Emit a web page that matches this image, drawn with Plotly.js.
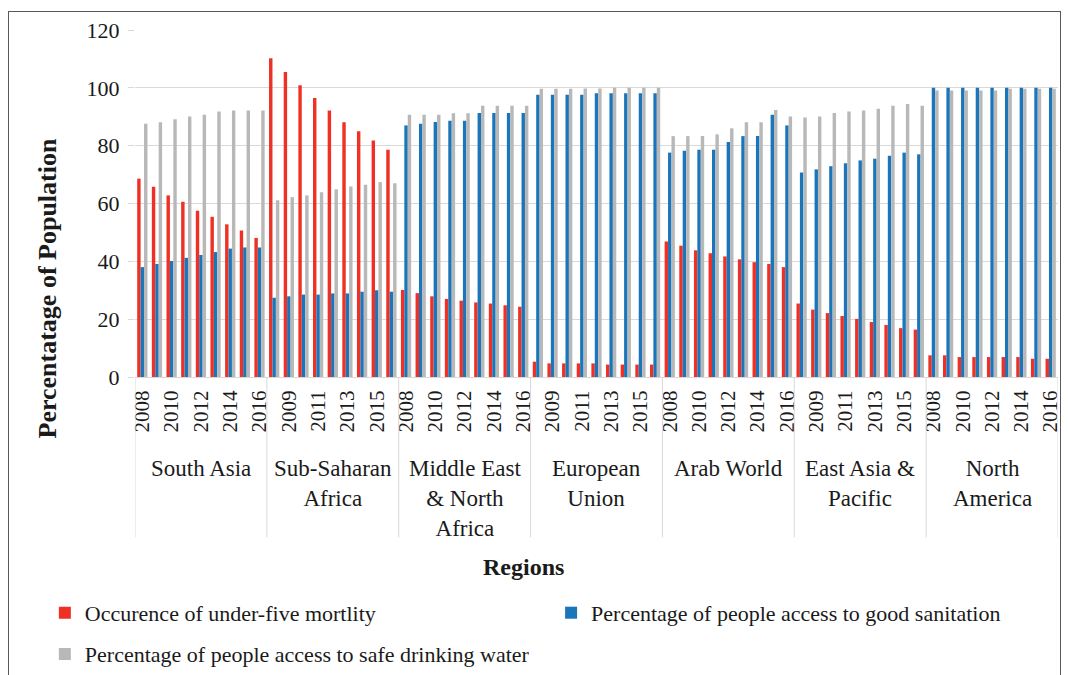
<!DOCTYPE html>
<html>
<head>
<meta charset="utf-8">
<script src="https://cdn.plot.ly/plotly-3.0.1.min.js"></script>
<style>
  html, body { margin: 0; padding: 0; background: #fff; }
  #chart { width: 1068px; height: 675px; }
  #frame { position: absolute; left: 8px; top: 11px; width: 1051px; height: 700px; border: 1px solid #595959; pointer-events: none; }
</style>
</head>
<body>
<div id="chart"></div>
<div id="frame"></div>
<script>
// ---- data ----
const regions = ["South Asia", "Sub-Saharan Africa", "Middle East & North Africa", "European Union", "Arab World", "East Asia & Pacific", "North America"];
const regionLabels = ["South Asia", "Sub-Saharan<br>Africa", "Middle East<br>& North<br>Africa", "European<br>Union", "Arab World", "East Asia &<br>Pacific", "North<br>America"];
const years = [2008, 2009, 2010, 2011, 2012, 2013, 2014, 2015, 2016];

const mortality = [
  68.6, 65.8, 62.8, 60.6, 57.5, 55.4, 52.8, 50.7, 48.1,   // South Asia
  110.2, 105.5, 100.9, 96.5, 92.2, 88.1, 85.0, 81.8, 78.6, // Sub-Saharan Africa
  30.1, 29.0, 27.9, 27.0, 26.4, 25.8, 25.4, 24.8, 24.3,   // Middle East & North Africa
  5.3, 4.7, 4.7, 4.7, 4.7, 4.3, 4.3, 4.3, 4.3,            // European Union
  46.9, 45.4, 43.8, 42.8, 41.7, 40.7, 39.7, 39.1, 38.0,   // Arab World
  25.4, 23.3, 22.1, 21.1, 20.1, 19.0, 18.0, 16.9, 16.4,   // East Asia & Pacific
  7.5, 7.5, 6.9, 6.9, 6.9, 6.9, 6.9, 6.3, 6.3             // North America
];
const sanitation = [
  38.0, 39.1, 40.1, 41.2, 42.2, 43.2, 44.4, 44.8, 44.8,
  27.4, 27.9, 28.5, 28.5, 28.9, 28.9, 29.5, 30.0, 29.5,
  87.0, 87.6, 88.2, 88.6, 88.6, 91.3, 91.3, 91.3, 91.3,
  97.6, 97.6, 97.6, 97.6, 98.1, 98.1, 98.1, 98.1, 98.1,
  77.6, 78.2, 78.6, 78.6, 81.3, 83.3, 83.3, 90.7, 87.0,
  70.7, 71.8, 72.9, 73.9, 74.9, 75.5, 76.5, 77.6, 77.0,
  100, 100, 100, 100, 100, 100, 100, 100, 100
];
const water = [
  87.6, 88.1, 89.1, 90.1, 90.7, 91.8, 92.2, 92.2, 92.2,
  61.1, 62.2, 62.8, 63.9, 64.9, 65.9, 66.5, 67.4, 67.0,
  90.7, 90.7, 90.7, 91.2, 91.2, 93.8, 93.8, 93.8, 93.8,
  99.7, 99.7, 99.7, 99.8, 99.8, 100, 100, 100, 100,
  83.3, 83.3, 83.3, 83.9, 86.0, 88.1, 88.1, 92.3, 90.1,
  89.7, 90.1, 91.3, 91.8, 92.2, 92.8, 93.8, 94.4, 93.8,
  99.1, 99.1, 99.1, 99.1, 99.1, 99.7, 99.7, 99.7, 99.7
];
const seriesNames = ["Occurence of under-five mortlity", "Percentage of people access to good sanitation", "Percentage of people access to safe drinking water"];

// ---- build ----
const FONT = '"Liberation Serif", "Times New Roman", serif';
const TXT = "#1a1a1a";
const keys = [], yearOf = [];
regions.forEach(r => years.forEach(y => { keys.push(r + " " + y); yearOf.push(String(y)); }));
const tickvals = keys.filter((_, i) => i % 2 === 0);
const ticktext = yearOf.filter((_, i) => i % 2 === 0);

const colors = ["#EE3124", "#1B75BB", "#B8B8B8"];
const legendIds = ["legend", "legend2", "legend3"];
const traces = [mortality, sanitation, water].map((vals, i) => ({
  type: "bar", x: keys, y: vals, name: seriesNames[i],
  marker: { color: colors[i] },
  legend: legendIds[i]
}));

const n = years.length;
const shapes = [];
for (let g = 0; g <= regions.length; g++) {
  shapes.push({ type: "line", xref: "x", yref: "paper", x0: g * n - 0.5, x1: g * n - 0.5, y0: 0, y1: -0.462,
    line: { color: "#D9D9D9", width: 1 } });
}
const annotations = regions.map((r, g) => ({
  xref: "x", yref: "paper", x: keys[g * n + 4], y: -0.222, yanchor: "top", xanchor: "center",
  text: regionLabels[g], showarrow: false, align: "center",
  font: { family: FONT, size: 23, color: TXT }
}));
annotations.push({ xref: "paper", yref: "paper", x: 0.421, y: -0.548, xanchor: "center", yanchor: "middle",
  text: "<b>Regions</b>", showarrow: false, font: { family: FONT, size: 24, color: TXT } });
annotations.push({ xref: "paper", yref: "paper", x: -0.095, y: 0.256, xanchor: "center", yanchor: "middle",
  textangle: -90, text: "<b>Percentatage of Population</b>", showarrow: false, font: { family: FONT, size: 26, color: TXT } });

const legendBase = { orientation: "h", xref: "container", yref: "container", xanchor: "left", yanchor: "middle",
  itemwidth: 30, font: { family: FONT, size: 22, color: TXT }, bgcolor: "rgba(0,0,0,0)" };

const layout = {
  width: 1068, height: 675,
  margin: { l: 135, r: 10, t: 30, b: 298 },
  paper_bgcolor: "#fff", plot_bgcolor: "#fff",
  barmode: "group", bargap: 0.3, bargroupgap: 0,
  font: { family: FONT, color: TXT },
  xaxis: {
    type: "category", range: [-0.5, keys.length - 0.5],
    tickmode: "array", tickvals: tickvals, ticktext: ticktext, tickangle: -90,
    tickfont: { family: FONT, size: 21, color: TXT }, ticklabelstandoff: 4,
    showline: true, linecolor: "#D9D9D9", linewidth: 1, ticks: "", showgrid: false,
    automargin: false, fixedrange: true
  },
  yaxis: {
    range: [0, 120], dtick: 20, tick0: 0,
    showgrid: true, gridcolor: "#D9D9D9", gridwidth: 1, zeroline: false, showline: false,
    ticks: "outside", ticklen: 6, tickcolor: "#D9D9D9", ticklabelstandoff: 4,
    tickfont: { family: FONT, size: 22, color: TXT },
    automargin: false
  },
  legend: Object.assign({}, legendBase, { x: 0.042, y: 0.092 }),
  legend2: Object.assign({}, legendBase, { x: 0.516, y: 0.092 }),
  legend3: Object.assign({}, legendBase, { x: 0.042, y: 0.031 }),
  shapes: shapes,
  annotations: annotations,
  showlegend: true
};

Plotly.newPlot("chart", traces, layout, { staticPlot: true, displayModeBar: false });
</script>
</body>
</html>
